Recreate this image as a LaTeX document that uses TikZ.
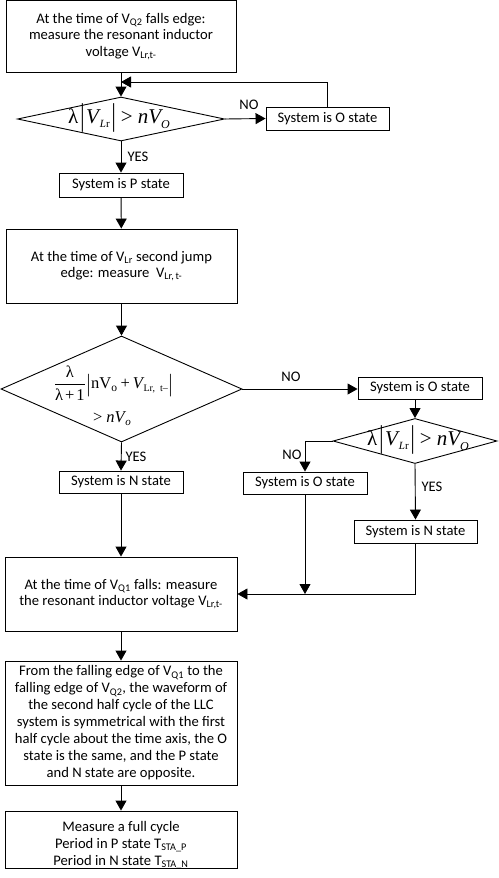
\documentclass[tikz,border=0pt]{standalone}
\usepackage{amsmath}
\usepackage{fontspec}
\setmainfont{Carlito}
\newfontfamily\tms{Liberation Serif}
\newcommand{\vbarx}[1]{\raisebox{#1}{\scalebox{1}[1.5]{|}}}
\newcommand{\condA}{λ\kern2pt\vbarx{-2.5pt}\kern1.5pt\textit{V}\kern-1pt\raisebox{-4pt}{\fontsize{11}{11}\selectfont\textit{L}r}\kern2pt\vbarx{-2.5pt}\kern5pt{>}\kern5pt\textit{nV}\kern-2pt\raisebox{-5pt}{\fontsize{12}{12}\selectfont\textit{O}}}
\usetikzlibrary{arrows.meta,shapes.geometric}
\begin{document}
\begin{tikzpicture}[x=1pt,y=-1pt,
  box/.style={draw,line width=0.9pt,inner sep=0pt,align=center,font=\fontsize{14.6}{16.5}\selectfont},
  dia/.style={draw,diamond,line width=0.9pt,inner sep=0pt},
  arr/.style={line width=0.9pt,-{Triangle[length=10pt,width=11pt]}},
  lab/.style={font=\fontsize{14.6}{16.5}\selectfont,inner sep=0pt},
  fml/.style={inner sep=0pt,font=\tms\fontsize{21}{24}\selectfont},
  fmls/.style={inner sep=0pt,font=\tms\fontsize{16.5}{19}\selectfont}]
\useasboundingbox (0,0) rectangle (498,878);

% main column
\node[box,minimum width=230pt,minimum height=72pt] (b1) at (121,36.6)
  {At the time of V\textsubscript{Q2} falls edge:\\ measure the resonant inductor\\ voltage V\textsubscript{Lr,t-}};
\node[dia,minimum width=207pt,minimum height=44pt] (d1) at (121,119) {};
\node[fml] (d1t) at (119,118) {\condA};
\node[box,minimum width=123pt,minimum height=23pt] (o1) at (327.5,118.5) {System is O state};
\coordinate (j1) at (121,82);
\node[box,minimum width=124pt,minimum height=24pt] (p1) at (121,185) {System is P state};
\node[box,minimum width=231pt,minimum height=74pt] (b2) at (121.5,266)
  {At the time of V\textsubscript{Lr} second jump\\ edge: measure\ \ V\textsubscript{Lr,\,t-}};
\node[dia,minimum width=241pt,minimum height=106pt] (d2) at (121.5,389) {};
\node[fmls] (d2t1) at (113,383) {$\dfrac{\text{λ}}{\text{λ\kern2pt+\kern2pt1}}$\kern1pt\vbarx{-2.5pt}\kern1pt nV\textsubscript{o}\kern3pt+\kern3pt\textit{V}\kern-1pt\raisebox{-3pt}{\fontsize{10}{10}\selectfont Lr,\ \ t–}\kern1pt\vbarx{-2.5pt}};
\node[fmls] (d2t2) at (112,419) {>\kern4pt\textit{nV}\kern-1pt\raisebox{-3pt}{\fontsize{11}{11}\selectfont\textit{o}}};
\node[box,minimum width=124pt,minimum height=22pt] (n1) at (121,482) {System is N state};

% right branch
\node[box,minimum width=124pt,minimum height=22pt] (o2) at (420,388) {System is O state};
\node[dia,minimum width=164pt,minimum height=45pt] (d3) at (415,441) {};
\node[fml] (d3t) at (418,440) {\condA};
\node[box,minimum width=124pt,minimum height=22pt] (o3) at (305,483) {System is O state};
\node[box,minimum width=123pt,minimum height=23pt] (n2) at (415.5,531.5) {System is N state};

% lower column
\node[box,minimum width=232pt,minimum height=74pt] (b4) at (121,594)
  {At the time of V\textsubscript{Q1} falls: measure\\ the resonant inductor voltage V\textsubscript{Lr,t-}};
\node[box,minimum width=232pt,minimum height=124pt,font=\fontsize{14.6}{17}\selectfont] (b5) at (121,723)
  {From the falling edge of V\textsubscript{Q1} to the\\ falling edge of V\textsubscript{Q2}, the waveform of\\ the second half cycle of the LLC\\ system is symmetrical with the first\\ half cycle about the time axis, the O\\ state is the same, and the P state\\ and N state are opposite.};
\node[box,minimum width=232pt,minimum height=57pt] (b6) at (121,839.5) {};
\node[lab,align=center,font=\fontsize{14.6}{16.7}\selectfont] (b6t) at (121,845)
  {Measure a full cycle\\ Period in P state T\textsubscript{STA\_P}\\ Period in N state T\textsubscript{STA\_N}};

% connectors
\draw[arr] (b1) -- (d1);
\draw[arr] (d1.east) -- (o1.west);
\draw[arr] (o1.north) |- (j1);
\draw[arr] (d1.south) -- (p1.north);
\draw[arr] (p1) -- (b2);
\draw[arr] (b2) -- (d2);
\draw[arr] (d2.south) -- (n1.north);
\draw[arr] (d2.east) -- (o2.west |- d2.east);
\draw[arr] (o2.south -| d3.north) -- (d3.north);
\draw[arr] (d3.west) -| (o3.north);
\draw[arr] (d3.south) -- (n2.north);
\draw[arr] (n1) -- (b4);
\draw[arr] (o3.south) -- (o3.south |- b4.east);
\draw[arr] (n2.south) |- (b4.east);
\draw[arr] (b4) -- (b5);
\draw[arr] (b5) -- (b6);

% labels
\node[lab] (no1) at (249,105) {NO};
\node[lab] (yes1) at (138,157) {YES};
\node[lab] (yes2) at (136,457) {YES};
\node[lab] (no2) at (291,377) {NO};
\node[lab] (no3) at (292,455) {NO};
\node[lab] (yes3) at (432,487) {YES};
\end{tikzpicture}
\end{document}
